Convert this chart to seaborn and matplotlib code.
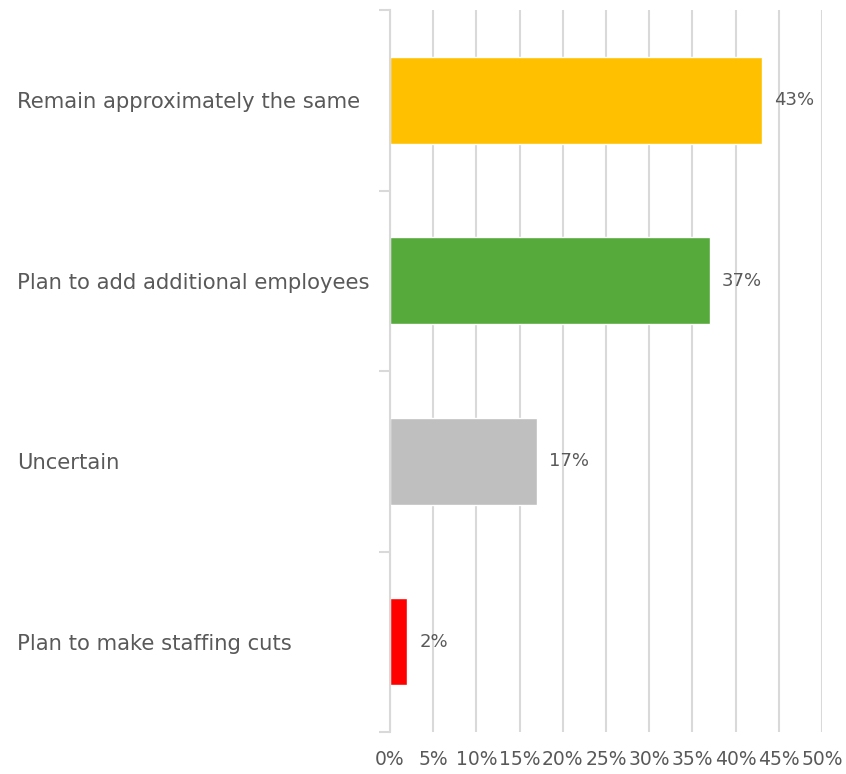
import matplotlib
matplotlib.use("Agg")
import matplotlib.pyplot as plt
import seaborn as sns
import pandas as pd
import numpy as np

categories = [
    "Remain approximately the same",
    "Plan to add additional employees",
    "Uncertain",
    "Plan to make staffing cuts",
]
values = [43, 37, 17, 2]
colors = ["#FFC000", "#56AA3B", "#BFBFBF", "#FF0000"]
xticks = list(range(0, 51, 5))

sns.set_theme(style="white")
plt.rcParams["font.family"] = ["DejaVu Sans"]

text_color = "#595959"
grid_color = "#D9D9D9"

df = pd.DataFrame({"category": categories, "value": values})

fig = plt.figure(figsize=(8.46, 7.74), dpi=100)
ax = fig.add_axes([390 / 846, 1 - 732 / 774, (822 - 390) / 846, (732 - 10) / 774])

sns.barplot(
    data=df, x="value", y="category", hue="category",
    palette=dict(zip(categories, colors)), order=categories,
    width=0.48, legend=False, ax=ax, saturation=1,
)

ax.set_xlim(0, 50)
ax.set_ylim(len(categories) - 0.5, -0.5)
ax.set_xticks(xticks)
ax.set_xticklabels([f"{t}%" for t in xticks], color=text_color, fontsize=13.5)
ax.set_xlabel("")
ax.set_ylabel("")

ax.grid(axis="x", color=grid_color, linewidth=1.5)
ax.set_axisbelow(True)
for s in ["top", "right", "bottom"]:
    ax.spines[s].set_visible(False)
ax.spines["left"].set_color(grid_color)
ax.spines["left"].set_linewidth(1.5)

# category boundary ticks on the left axis
ax.set_yticks(np.arange(-0.5, len(categories), 1.0), minor=True)
ax.tick_params(axis="y", which="minor", length=8, width=1.5, color=grid_color, left=True)
ax.tick_params(axis="y", which="major", length=0, pad=(390 - 17) / 100 * 72, labelsize=15.2,
               labelcolor=text_color)
for lbl in ax.get_yticklabels():
    lbl.set_horizontalalignment("left")
ax.tick_params(axis="x", length=0, pad=13)

for i, v in enumerate(values):
    ax.annotate(f"{v}%", xy=(v, i), xytext=(9, 0), textcoords="offset points",
                va="center", ha="left", color=text_color, fontsize=13)

fig.savefig("out.png", dpi=100, facecolor="white")
